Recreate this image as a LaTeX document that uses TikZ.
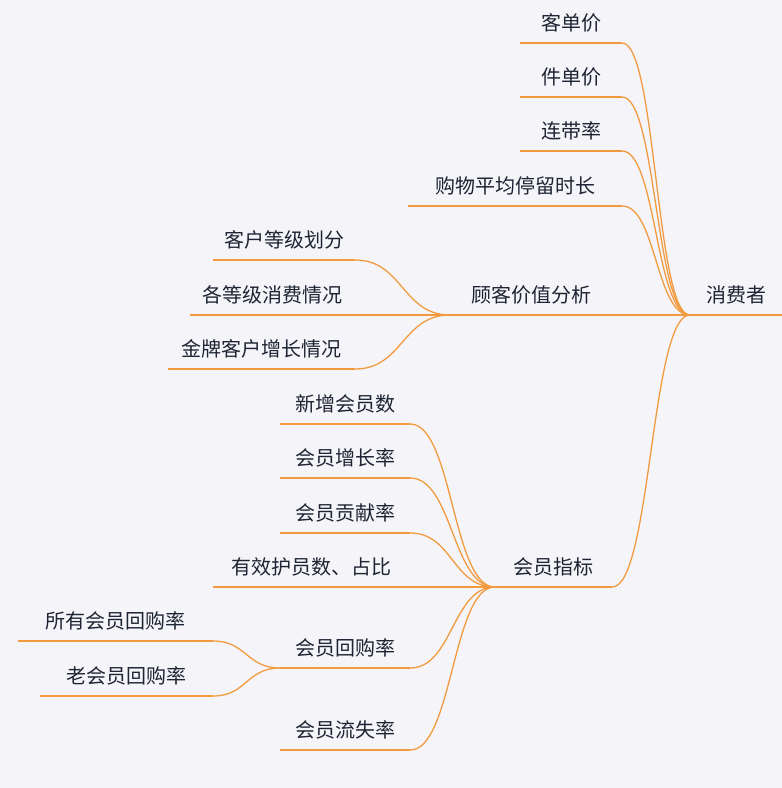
\documentclass[tikz,border=0pt]{standalone}
\usepackage{fontspec}
\setmainfont{Noto Sans CJK SC}
\usetikzlibrary{calc}
\definecolor{bg}{HTML}{F5F5F9}
\definecolor{ln}{HTML}{F29A3F}
\definecolor{tx}{HTML}{1E2433}
\tikzset{
  topic/.style={anchor=south, inner xsep=0pt, inner ysep=8pt, text=tx,
    font=\fontsize{20}{23}\selectfont, text height=16pt, text depth=4pt},
  uline/.style={draw=ln, line width=1.3pt},
}
\newcommand\mn[5]{\node[topic, minimum width={#3-#2}] (#1) at ({(#2+#3)/2}, -#4) {#5};
  \draw[uline] (#1.south west) -- (#1.south east);}
\newcommand\cn[2]{\draw[uline] let \p1=(#1.south east), \p2=(#2.south west) in
  (\p1) .. controls ({(\x1+\x2)/2},\y1) and ({(\x1+\x2)/2},\y2) .. (\p2);}
\begin{document}
\begin{tikzpicture}[x=1pt,y=1pt]
\fill[bg] (0,0) rectangle (782,-788);
\useasboundingbox (0,0) rectangle (782,-788);
\mn{root}{690}{782}{315}{消费者}
\mn{a1}{520}{622}{43}{客单价}
\mn{a2}{520}{622}{97}{件单价}
\mn{a3}{520}{622}{151}{连带率}
\mn{a4}{408}{622}{206}{购物平均停留时长}
\mn{b}{450}{612}{315}{顾客价值分析}
\mn{b1}{213}{355}{260}{客户等级划分}
\mn{b2}{190}{355}{315}{各等级消费情况}
\mn{b3}{168}{355}{369}{金牌客户增长情况}
\mn{c}{495}{612}{587}{会员指标}
\mn{c1}{280}{410}{424}{新增会员数}
\mn{c2}{280}{410}{478}{会员增长率}
\mn{c3}{280}{410}{533}{会员贡献率}
\mn{c4}{213}{410}{587}{有效护员数、占比}
\mn{c5}{280}{410}{668}{会员回购率}
\mn{c6}{280}{410}{750}{会员流失率}
\mn{d1}{18}{213}{641}{所有会员回购率}
\mn{d2}{40}{213}{696}{老会员回购率}
\foreach \q in {a1,a2,a3,a4,b,c}{\cn{\q}{root}}
\foreach \q in {b1,b2,b3}{\cn{\q}{b}}
\foreach \q in {c1,c2,c3,c4,c5,c6}{\cn{\q}{c}}
\foreach \q in {d1,d2}{\cn{\q}{c5}}
\end{tikzpicture}
\end{document}
